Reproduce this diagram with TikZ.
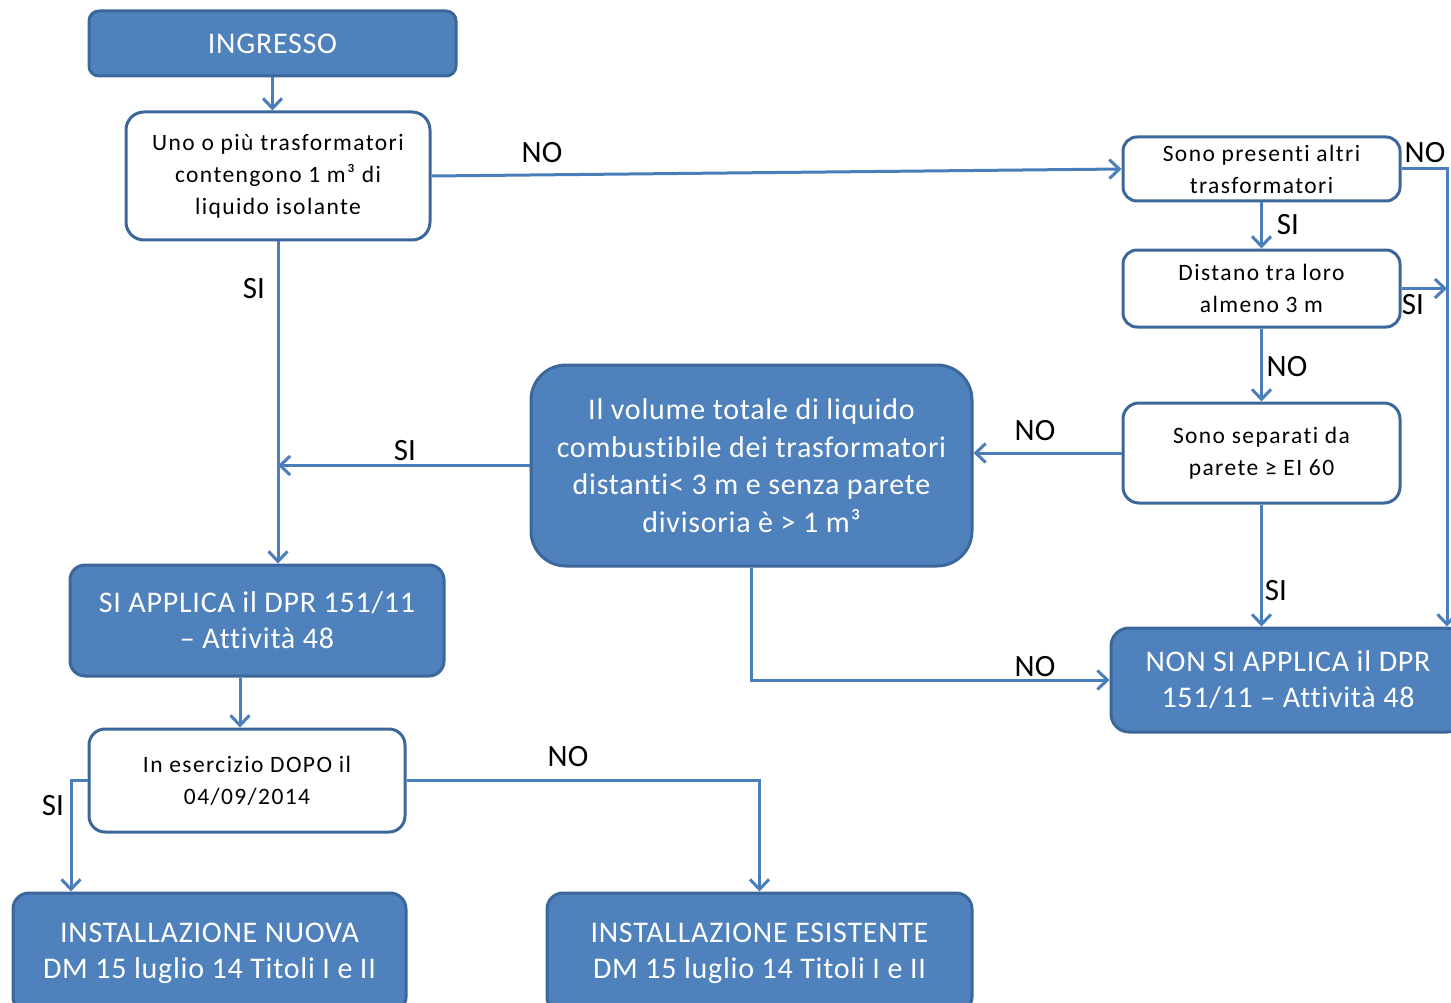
\documentclass[tikz,border=0pt]{standalone}
\usepackage{fontspec}
\setmainfont{Carlito}[Ligatures=NoCommon]
\newfontfamily\bluefont{Carlito}[Ligatures=NoCommon, LetterSpace=2.5]
\newfontfamily\whitefont{Carlito}[Ligatures=NoCommon, LetterSpace=6]
\usetikzlibrary{arrows.meta}
\definecolor{bfill}{HTML}{4F81BD}
\definecolor{bdraw}{HTML}{3C679A}
\definecolor{lcol}{HTML}{4A7EBB}
\tikzset{
  bluebox/.style={draw=bdraw, fill=bfill, line width=3pt, text=white, align=center, inner sep=0pt, font=\bluefont\fontsize{30}{36}\selectfont},
  whitebox/.style={draw=bdraw, fill=white, line width=3pt, text=black, align=center, inner sep=0pt, font=\whitefont\fontsize{23.5}{32}\selectfont},
  conn/.style={draw=lcol, line width=3pt, -{Straight Barb[length=10pt,width=19pt]}},
  lab/.style={font=\fontsize{31}{32}\selectfont, inner sep=0pt, text=black}
}
\begin{document}
\begin{tikzpicture}[x=1pt,y=-1pt]
\useasboundingbox (0,0) rectangle (1451,1003);
\clip (0,0) rectangle (1451,1003);
\fill[white] (0,0) rectangle (1451,1003);
% boxes
\node[bluebox, rounded corners=10pt, minimum width=367pt, minimum height=65pt] (ing) at (272.5,43.5) {INGRESSO};
\node[whitebox, rounded corners=18pt, minimum width=304pt, minimum height=128pt] (q1) at (278,176) {Uno o più trasformatori\\contengono 1 m³ di\\liquido isolante};
\node[whitebox, rounded corners=14pt, minimum width=277pt, minimum height=64pt] (q2) at (1261.5,169) {Sono presenti altri\\trasformatori};
\node[whitebox, rounded corners=14pt, minimum width=277pt, minimum height=77pt] (q3) at (1261.5,288.5) {Distano tra loro\\almeno 3 m};
\node[whitebox, rounded corners=16pt, minimum width=277pt, minimum height=100pt] (q4) at (1261.5,453) {Sono separati da\\parete ≥ EI 60};
\node[bluebox, rounded corners=35pt, minimum width=441pt, minimum height=201pt, font=\bluefont\fontsize{30}{37.5}\selectfont] (big) at (751.5,465.5) {Il volume totale di liquido\\combustibile dei trasformatori\\distanti< 3 m e senza parete\\divisoria è > 1 m³};
\node[bluebox, rounded corners=18pt, minimum width=354pt, minimum height=104pt] (nonsi) at (1288,680) {NON SI APPLICA il DPR\\151/11 – Attività 48};
\node[bluebox, rounded corners=15pt, minimum width=374pt, minimum height=111pt] (appl) at (257,620.5) {SI APPLICA il DPR 151/11\\– Attività 48};
\node[whitebox, rounded corners=16pt, minimum width=316pt, minimum height=103pt] (q5) at (247,780.5) {In esercizio DOPO il\\04/09/2014};
\node[bluebox, rounded corners=16pt, minimum width=393pt, minimum height=120pt] (nuova) at (209.5,953) {INSTALLAZIONE NUOVA\\DM 15 luglio 14 Titoli I e II};
\node[bluebox, rounded corners=16pt, minimum width=425pt, minimum height=120pt] (esist) at (759.5,953) {INSTALLAZIONE ESISTENTE\\DM 15 luglio 14 Titoli I e II};
% helper coordinates
\coordinate (rx) at (1447,0);
\coordinate (ax) at (240,0);
\coordinate (sx) at (71,0);
% connectors
\draw[conn] (ing.south) -- (ing.south |- q1.north);
\draw[conn] (q1.east) -- (q2.west);
\draw[conn] (q2.east) -| (rx |- nonsi.north);
\draw[conn] (q3.east) -- (rx |- q3.east);
\draw[conn] (q2.south) -- (q3.north);
\draw[conn] (q3.south) -- (q4.north);
\draw[conn] (q4.west) -- (q4.west -| big.east);
\draw[conn] (q4.south) -- (q4.south |- nonsi.north);
\draw[conn] (q1.south) -- (q1.south |- appl.north);
\draw[conn] (big.west) -- (big.west -| q1.south);
\draw[conn] (big.south) |- (nonsi.west);
\draw[conn] (ax |- appl.south) -- (ax |- q5.north);
\draw[conn] (q5.west) -| (sx |- nuova.north);
\draw[conn] (q5.east) -| (esist.north);
% labels
\node[lab] (l1) at (542,153) {NO};
\node[lab] (l2) at (1425,153) {NO};
\node[lab] (l3) at (1288,225) {SI};
\node[lab] (l4) at (1413,305) {SI};
\node[lab] (l5) at (1287,367) {NO};
\node[lab] (l6) at (1035,431) {NO};
\node[lab] (l7) at (1276,591) {SI};
\node[lab] (l8) at (405,451) {SI};
\node[lab] (l9) at (254,289) {SI};
\node[lab] (l10) at (1035,667) {NO};
\node[lab] (l11) at (53,806) {SI};
\node[lab] (l12) at (568,757) {NO};
\end{tikzpicture}
\end{document}
